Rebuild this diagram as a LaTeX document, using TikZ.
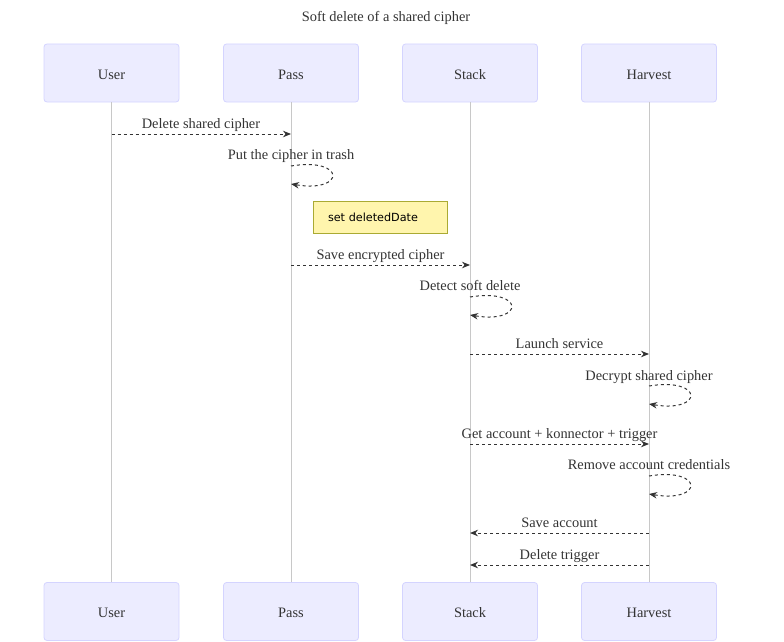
\documentclass[tikz,border=0pt]{standalone}
\usepackage{fontspec}
\setmainfont{Liberation Serif}
\newfontfamily\notefont{DejaVu Sans}
\usetikzlibrary{arrows.meta}
\definecolor{txt}{HTML}{333333}
\definecolor{actorfill}{HTML}{ECECFF}
\definecolor{actorborder}{HTML}{D4D4FF}
\definecolor{lifec}{HTML}{C8C8C8}
\definecolor{arrowc}{HTML}{333333}
\definecolor{notefill}{HTML}{FFF5AD}
\definecolor{noteborder}{HTML}{AAAA33}
\newcommand{\lowered}[1]{\raisebox{-1.5pt}[\height][\depth]{#1}}
\begin{document}
\begin{tikzpicture}[x=1pt,y=-1pt,
  actor/.style={draw=actorborder, fill=actorfill, rounded corners=3pt, minimum width=135pt, minimum height=58pt, inner sep=0pt, font=\fontsize{14.4}{17}\selectfont, text=txt, line width=0.8pt},
  life/.style={draw=lifec, line width=1pt},
  msg/.style={draw=arrowc, dash pattern=on 3pt off 3pt, line width=1pt, -{Stealth[length=8pt,width=6.5pt]}},
  lbl/.style={font=\fontsize{14.4}{17}\selectfont, text=txt, anchor=base, inner sep=0pt},
  notebox/.style={draw=noteborder, fill=notefill, line width=0.8pt, minimum height=32pt, text width=104pt, inner xsep=15pt, align=left, font=\notefont\fontsize{11.2}{13}\selectfont, text=black}
]
\useasboundingbox (0,0) rectangle (784,642);
\node[lbl] (title) at (386,22) {Soft delete of a shared cipher};
% actors
\node[actor] (usert) at (111.5,73) {\lowered{User}};
\node[actor] (passt) at (291,73) {\lowered{Pass}};
\node[actor] (stackt) at (470,73) {\lowered{Stack}};
\node[actor] (harvt) at (649,73) {\lowered{Harvest}};
\node[actor] (userb) at (111.5,611.5) {\lowered{User}};
\node[actor] (passb) at (291,611.5) {\lowered{Pass}};
\node[actor] (stackb) at (470,611.5) {\lowered{Stack}};
\node[actor] (harvb) at (649,611.5) {\lowered{Harvest}};
% lifelines
\draw[life] (usert) -- (userb);
\draw[life] (passt) -- (passb);
\draw[life] (stackt) -- (stackb);
\draw[life] (harvt) -- (harvb);
% message coordinates
\coordinate (m1a) at (111.5,134); \coordinate (m1b) at (291,134);
\coordinate (m2a) at (291,166);   \coordinate (m2b) at (291,184);
\coordinate (m3a) at (291,265);   \coordinate (m3b) at (470,265);
\coordinate (m4a) at (470,297);   \coordinate (m4b) at (470,315);
\coordinate (m5a) at (470,354);   \coordinate (m5b) at (649,354);
\coordinate (m6a) at (649,386);   \coordinate (m6b) at (649,404);
\coordinate (m7a) at (470,444);   \coordinate (m7b) at (649,444);
\coordinate (m8a) at (649,476);   \coordinate (m8b) at (649,494);
\coordinate (m9a) at (649,533);   \coordinate (m9b) at (470,533);
\coordinate (m10a) at (649,565); \coordinate (m10b) at (470,565);
% messages
\draw[msg] (m1a) -- (m1b);
\node[lbl] (l1) at (201,128) {Delete shared cipher};
\draw[msg] (m2a) .. controls +(55,-9) and +(55,9) .. (m2b);
\node[lbl] (l2) at (291,159) {Put the cipher in trash};
\node[notebox] (note) at (380,217) {set deletedDate};
\draw[msg] (m3a) -- (m3b);
\node[lbl] (l3) at (380.5,259) {Save encrypted cipher};
\draw[msg] (m4a) .. controls +(55,-9) and +(55,9) .. (m4b);
\node[lbl] (l4) at (470,290) {Detect soft delete};
\draw[msg] (m5a) -- (m5b);
\node[lbl] (l5) at (559.5,348) {Launch service};
\draw[msg] (m6a) .. controls +(55,-9) and +(55,9) .. (m6b);
\node[lbl] (l6) at (649,380) {Decrypt shared cipher};
\draw[msg] (m7a) -- (m7b);
\node[lbl] (l7) at (559.5,438) {Get account + konnector + trigger};
\draw[msg] (m8a) .. controls +(55,-9) and +(55,9) .. (m8b);
\node[lbl] (l8) at (649,469) {Remove account credentials};
\draw[msg] (m9a) -- (m9b);
\node[lbl] (l9) at (559.5,527) {Save account};
\draw[msg] (m10a) -- (m10b);
\node[lbl] (l10) at (559.5,559) {Delete trigger};
\end{tikzpicture}
\end{document}
